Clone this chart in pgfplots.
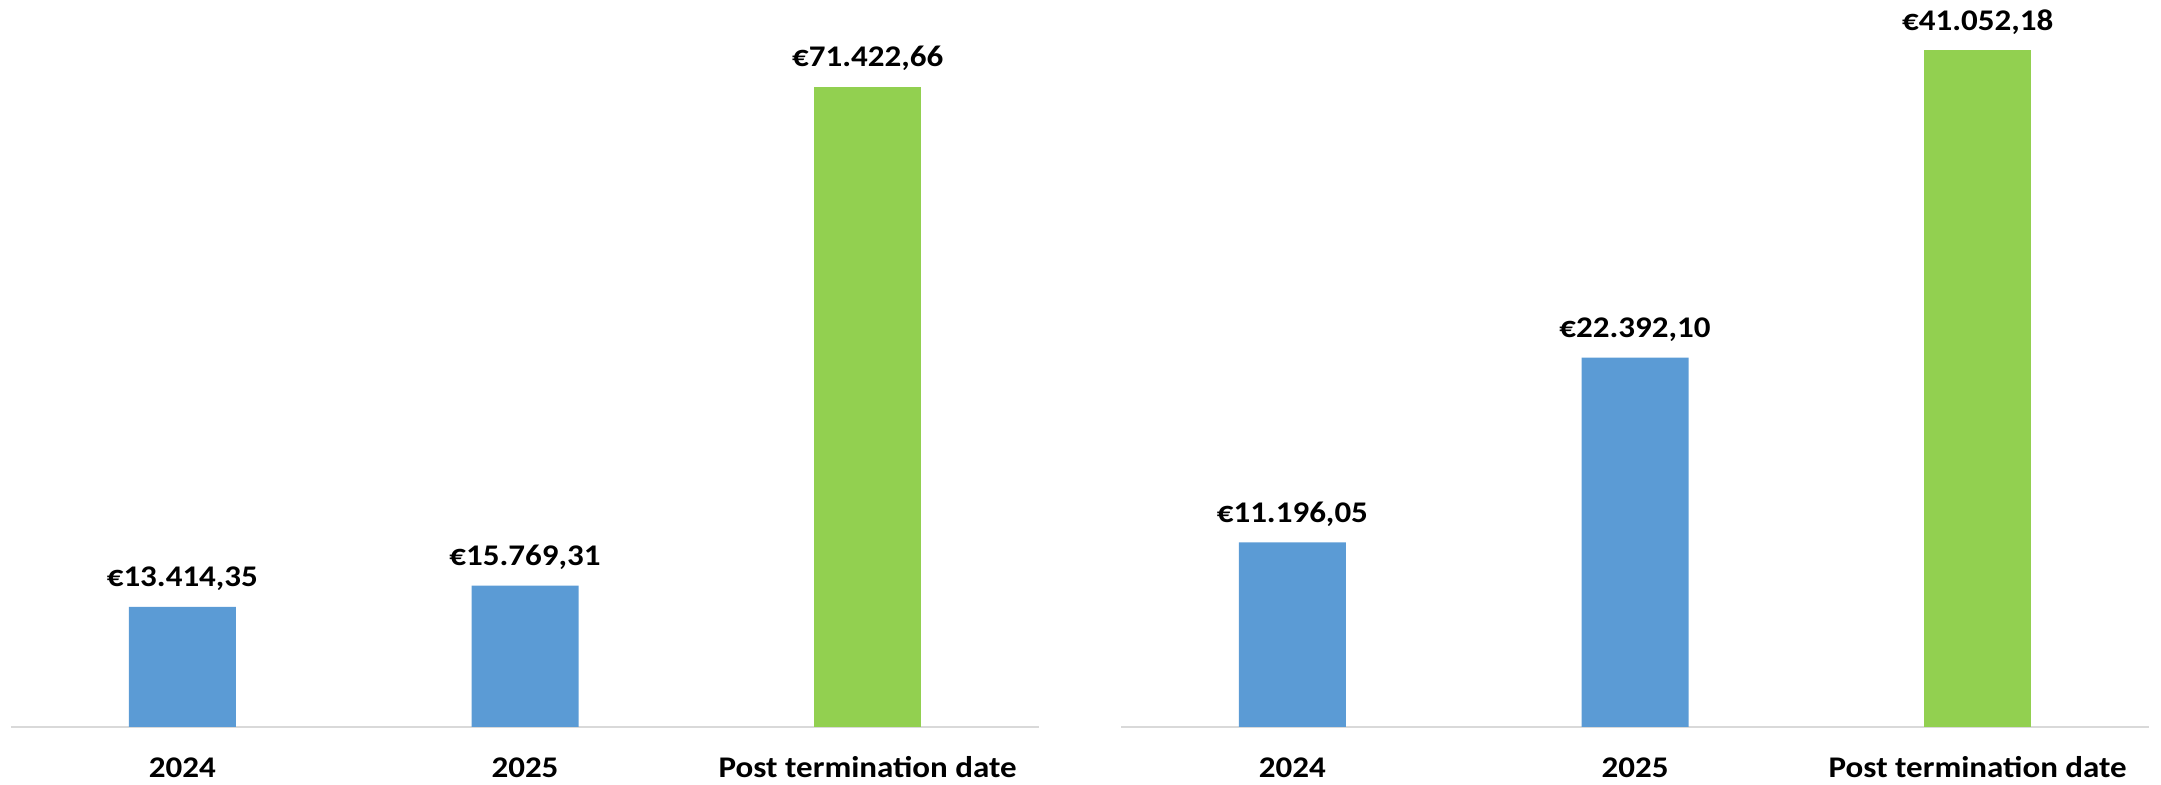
\documentclass[border=0pt]{standalone}
\usepackage{fontspec}
\setmainfont{Carlito}
\newfontfamily\lblfont{Carlito}[FakeStretch=1.1]
\usepackage{pgfplots}
\pgfplotsset{compat=1.18}
\definecolor{barblue}{HTML}{5B9BD5}
\definecolor{bargreen}{HTML}{92D050}
\definecolor{axisgray}{HTML}{D9D9D9}
\pgfplotsset{
  mybars/.style={
    scale only axis, width=514pt, height=363.5pt,
    xmin=-0.5, xmax=2.5, ymin=0,
    axis y line=none, axis x line*=bottom,
    axis line style={axisgray, line width=1pt},
    xtick={0,1,2}, xticklabels={2024,2025,Post termination date},
    ytick=\empty, major tick length=0pt,
    xticklabel style={font=\lblfont\fontsize{15}{18}\selectfont\bfseries, anchor=base, yshift=-25.5pt, inner sep=0pt},
    clip=false,
    anchor=south west,
  },
  mybar/.style={
    ybar, bar width=53.5pt, bar shift=0pt, draw=none, fill=#1,
    nodes near coords, point meta=explicit symbolic,
    every node near coord/.append style={font=\lblfont\fontsize{15}{18}\selectfont\bfseries, anchor=base, inner sep=0pt, yshift=10pt, text=black},
  },
}
\begin{document}
\begin{tikzpicture}
\useasboundingbox (0,0) rectangle (1080.5pt,392.5pt);
\begin{axis}[mybars, at={(5.5pt,29pt)}, ymax=81130]
\addplot[mybar=barblue] coordinates {(0,13414.35) [€13.414,35] (1,15769.31) [€15.769,31]};
\addplot[mybar=bargreen] coordinates {(2,71422.66) [€71.422,66]};
\end{axis}
\begin{axis}[mybars, at={(560.5pt,29pt)}, ymax=44087]
\addplot[mybar=barblue] coordinates {(0,11196.05) [€11.196,05] (1,22392.10) [€22.392,10]};
\addplot[mybar=bargreen] coordinates {(2,41052.18) [€41.052,18]};
\end{axis}
\end{tikzpicture}
\end{document}
